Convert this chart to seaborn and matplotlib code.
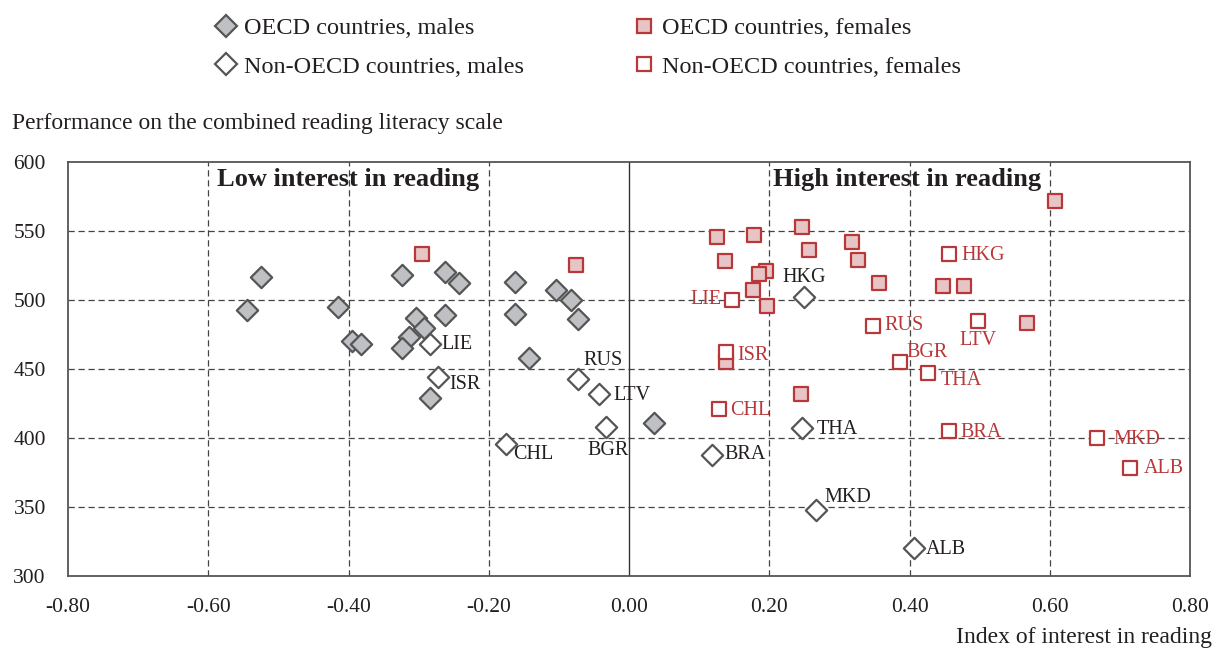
import matplotlib
matplotlib.use("Agg")
import matplotlib.pyplot as plt
from matplotlib.lines import Line2D
import seaborn as sns
import pandas as pd

# Index of interest in reading (x) and reading performance (y) by group
oecd_m_x = [-0.545, -0.525, -0.415, -0.395, -0.382, -0.323, -0.263, -0.243,
            -0.304, -0.292, -0.314, -0.324, -0.263, -0.284, -0.163, -0.163,
            -0.143, -0.104, -0.083, -0.073, 0.035]
oecd_m_y = [493, 517, 495, 470, 468, 518, 520, 512,
            487, 480, 473, 465, 489, 429, 513, 490,
            458, 507, 500, 486, 411]

oecd_f_x = [-0.295, -0.075, 0.126, 0.178, 0.247, 0.137, 0.257, 0.318,
            0.327, 0.196, 0.185, 0.177, 0.197, 0.357, 0.138, 0.245,
            0.448, 0.478, 0.607, 0.567]
oecd_f_y = [533, 525, 546, 547, 553, 528, 536, 542,
            529, 521, 519, 507, 496, 512, 455, 432,
            510, 510, 572, 483]

nonoecd_codes = ["LIE", "ISR", "RUS", "LTV", "BGR", "CHL", "HKG", "THA", "BRA", "MKD", "ALB"]
non_m_x = [-0.284, -0.273, -0.073, -0.043, -0.033, -0.175, 0.250, 0.247, 0.119, 0.267, 0.406]
non_m_y = [468, 444, 443, 432, 408, 396, 502, 407, 388, 348, 320]
non_f_x = [0.147, 0.138, 0.348, 0.498, 0.386, 0.128, 0.457, 0.427, 0.457, 0.668, 0.714]
non_f_y = [500, 462, 481, 485, 455, 421, 533, 447, 405, 400, 378]

group_names = ["OECD countries, males", "OECD countries, females",
               "Non-OECD countries, males", "Non-OECD countries, females"]

# Label placement (offset in pixels, horizontal alignment)
male_label_pos = {
    "LIE": (12, 0, "left"), "ISR": (12, -7, "left"), "RUS": (6, 18, "left"),
    "LTV": (15, -2, "left"), "BGR": (2, -24, "center"), "CHL": (7, -11, "left"),
    "HKG": (0, 20, "center"), "THA": (14, -1, "left"), "BRA": (12, 0, "left"),
    "MKD": (8, 12, "left"), "ALB": (12, -1, "left"),
}
female_label_pos = {
    "LIE": (-11, 0, "right"), "ISR": (12, -3, "left"), "RUS": (11, 1, "left"),
    "LTV": (0, -20, "center"), "BGR": (7, 10, "left"), "CHL": (11, -1, "left"),
    "HKG": (12, -1, "left"), "THA": (12, -7, "left"), "BRA": (11, -1, "left"),
    "MKD": (16, -1, "left"), "ALB": (14, 0, "left"),
}

GRAY_FILL, GRAY_EDGE = "#bfc0c4", "#555555"
PINK_FILL, RED_EDGE = "#e7c4c6", "#b8383a"
RED_TEXT = "#b8383a"
TEXT = "#231f20"

sns.set_theme(style="white")
plt.rcParams["font.family"] = ["Liberation Serif", "DejaVu Serif"]

frames = [
    pd.DataFrame({"x": oecd_m_x, "y": oecd_m_y, "group": group_names[0]}),
    pd.DataFrame({"x": oecd_f_x, "y": oecd_f_y, "group": group_names[1]}),
    pd.DataFrame({"x": non_m_x, "y": non_m_y, "group": group_names[2]}),
    pd.DataFrame({"x": non_f_x, "y": non_f_y, "group": group_names[3]}),
]
df = pd.concat(frames, ignore_index=True)

styles = {
    group_names[0]: dict(marker="D", facecolor=GRAY_FILL, edgecolor=GRAY_EDGE),
    group_names[1]: dict(marker="s", facecolor=PINK_FILL, edgecolor=RED_EDGE),
    group_names[2]: dict(marker="D", facecolor="white", edgecolor=GRAY_EDGE),
    group_names[3]: dict(marker="s", facecolor="white", edgecolor=RED_EDGE),
}
sizes = {"D": 118, "s": 108}

fig = plt.figure(figsize=(12.24, 6.52), dpi=100)
ax = fig.add_axes([68 / 1224, 1 - 576 / 652, (1190 - 68) / 1224, (576 - 162) / 652])

for name in [group_names[0], group_names[2], group_names[1], group_names[3]]:
    st = styles[name]
    sub = df[df["group"] == name]
    sns.scatterplot(data=sub, x="x", y="y", ax=ax, marker=st["marker"],
                    s=sizes[st["marker"]], color=st["facecolor"],
                    edgecolor=st["edgecolor"], linewidth=1.6, zorder=3, legend=False)

ax.set_xlim(-0.8, 0.8)
ax.set_ylim(300, 600)
xticks = [-0.8, -0.6, -0.4, -0.2, 0.0, 0.2, 0.4, 0.6, 0.8]
ax.set_xticks(xticks)
ax.set_xticklabels([f"{t:.2f}" for t in xticks])
ax.set_yticks([300, 350, 400, 450, 500, 550, 600])
ax.tick_params(axis="both", length=0, labelsize=15.5, colors=TEXT)
ax.tick_params(axis="x", pad=16)
ax.tick_params(axis="y", pad=16)
ax.set_xlabel("")
ax.set_ylabel("")

dash = (0, (5, 3))
for gx in [-0.6, -0.4, -0.2, 0.2, 0.4, 0.6]:
    ax.axvline(gx, color="#444444", lw=0.9, ls=dash, zorder=1)
for gy in [350, 400, 450, 500, 550]:
    ax.axhline(gy, color="#444444", lw=0.9, ls=dash, zorder=1)
ax.axvline(0, color="#333333", lw=1.0, zorder=1)

for side, sp in ax.spines.items():
    sp.set_visible(True)
    sp.set_color("#555555")
    sp.set_linewidth(1.3)

# Country labels
for code, x, y in zip(nonoecd_codes, non_m_x, non_m_y):
    dx, dy, ha = male_label_pos[code]
    ax.annotate(code, (x, y), xytext=(dx, dy), textcoords="offset pixels",
                ha=ha, va="center", fontsize=14.5, color=TEXT, zorder=4)
for code, x, y in zip(nonoecd_codes, non_f_x, non_f_y):
    dx, dy, ha = female_label_pos[code]
    ax.annotate(code, (x, y), xytext=(dx, dy), textcoords="offset pixels",
                ha=ha, va="center", fontsize=14.5, color=RED_TEXT, zorder=4)

ax.text(-0.6 + 0.013, 587, "Low interest in reading", fontsize=19, fontweight="bold",
        color=TEXT, ha="left", va="center")
ax.text(0.2 + 0.005, 587, "High interest in reading", fontsize=19, fontweight="bold",
        color=TEXT, ha="left", va="center")

fig.text(12 / 1224, 1 - 123 / 652, "Performance on the combined reading literacy scale",
         fontsize=17, color=TEXT, ha="left", va="center")
fig.text(1212 / 1224, 1 - 637 / 652, "Index of interest in reading",
         fontsize=17, color=TEXT, ha="right", va="center")

def handle(name):
    st = styles[name]
    return Line2D([], [], ls="none", marker=st["marker"],
                  markersize=11 if st["marker"] == "D" else 10.5,
                  markerfacecolor=st["facecolor"], markeredgecolor=st["edgecolor"],
                  markeredgewidth=1.6)

legend_kw = dict(loc="upper left", frameon=False, fontsize=17.5, handlelength=0.8,
                 handletextpad=0.35, labelspacing=0.68, borderpad=0, borderaxespad=0,
                 labelcolor=TEXT)
fig.legend([handle(group_names[0]), handle(group_names[2])],
           [group_names[0], group_names[2]],
           bbox_to_anchor=(216 / 1224, 1 - 17 / 652), **legend_kw)
fig.legend([handle(group_names[1]), handle(group_names[3])],
           [group_names[1], group_names[3]],
           bbox_to_anchor=(634 / 1224, 1 - 17 / 652), **legend_kw)

fig.savefig("out.png", dpi=100)
